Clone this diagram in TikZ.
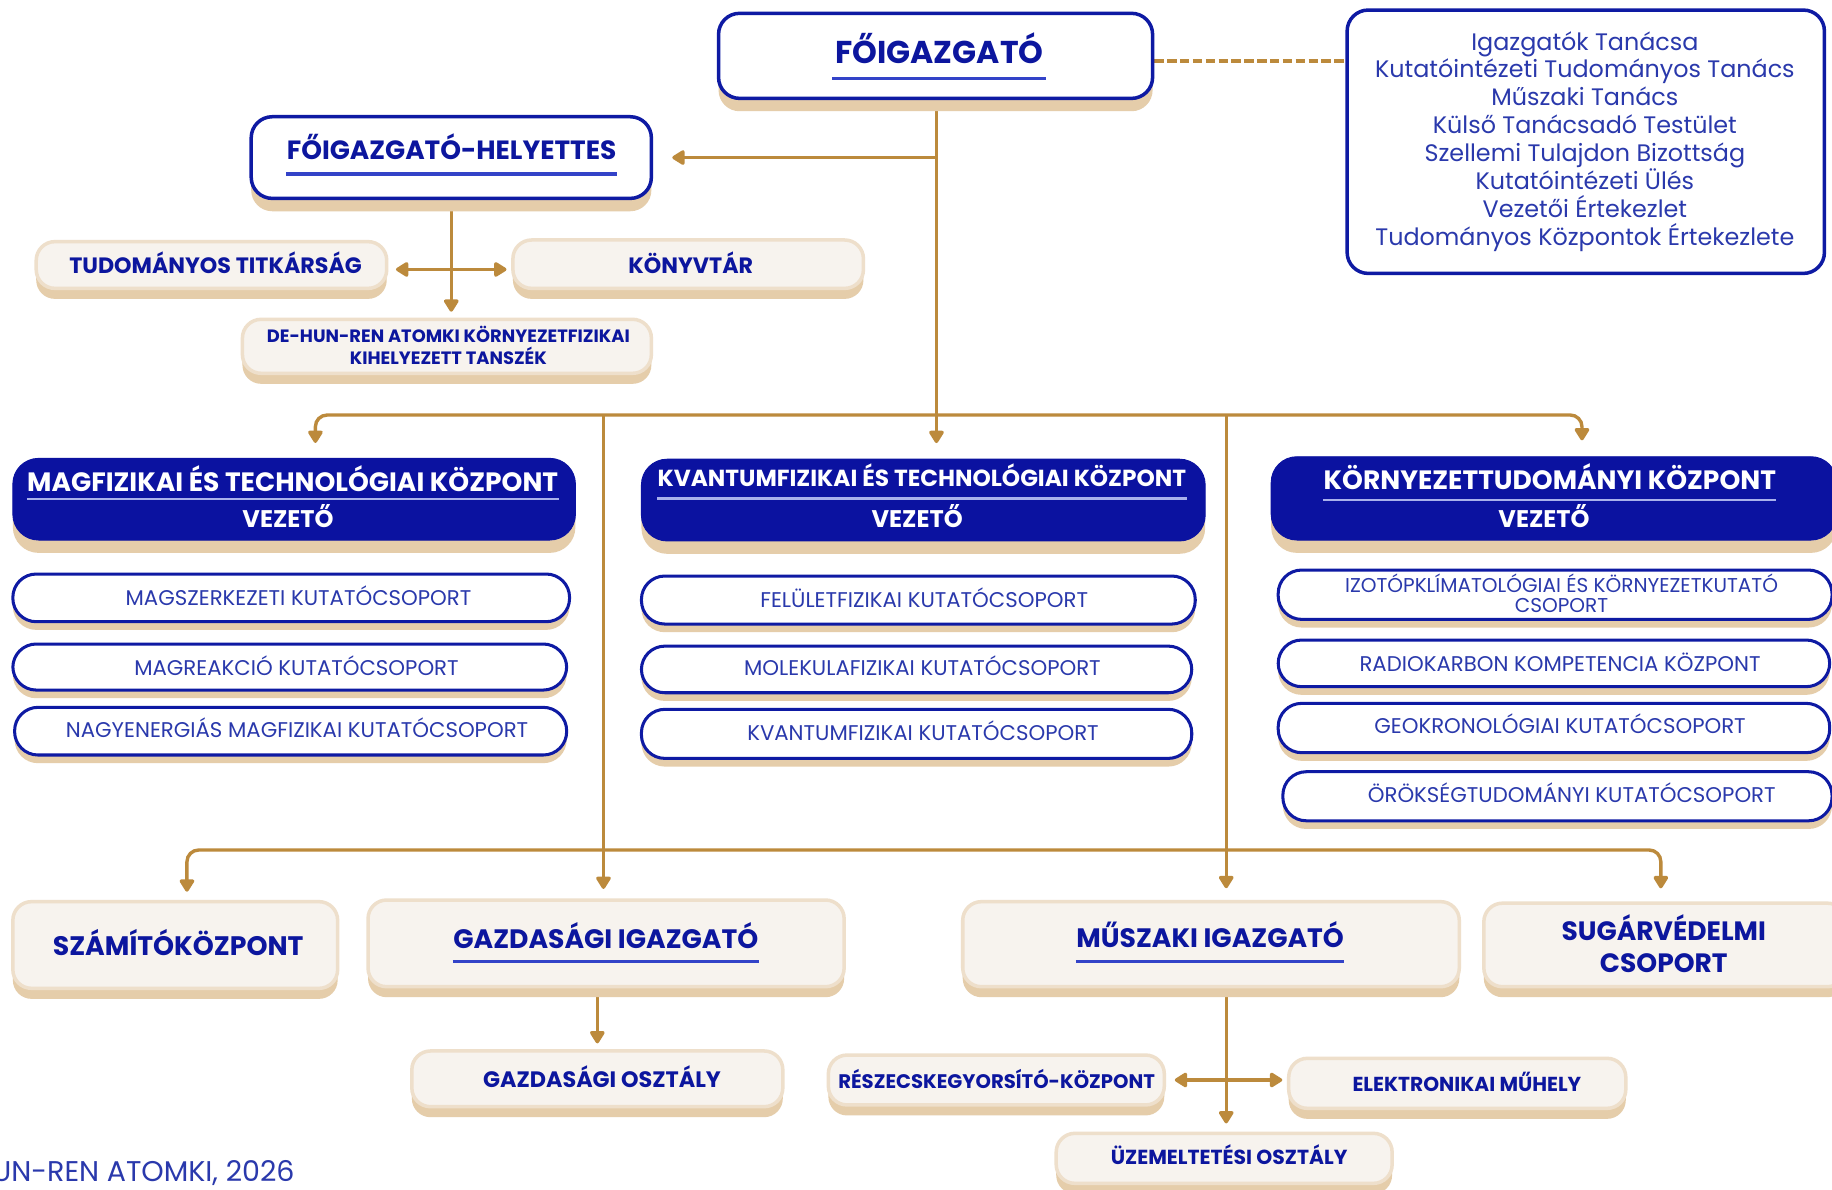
\documentclass[tikz,border=0pt]{standalone}
\usepackage{fontspec}
\setmainfont{Poppins}
\usetikzlibrary{arrows.meta,shadows}
\definecolor{gold}{HTML}{BC8A3C}
\definecolor{navy}{HTML}{0B12A0}
\definecolor{bordb}{HTML}{0E1AA3}
\definecolor{txtb}{HTML}{0C169E}
\definecolor{grpb}{HTML}{2A39AC}
\definecolor{shade}{HTML}{E5CDAA}
\definecolor{cream}{HTML}{F7F3EE}
\definecolor{creamln}{HTML}{EEDFCB}
\definecolor{ulb}{HTML}{3343C8}
\definecolor{ulw}{HTML}{A9B1EC}
\newcommand\fz[1]{\fontsize{#1}{#1}\selectfont}
\pgfdeclarelayer{back}
\pgfdeclarelayer{bg}
\pgfsetlayers{back,bg,main}
\tikzset{
  gline/.style={draw=gold, line width=1.45pt},
  arr/.style={-{Triangle[length=6pt,width=7pt,round]}},
  darr/.style={{Triangle[length=6pt,width=7pt,round]}-{Triangle[length=6pt,width=7pt,round]}},
  shd/.style={drop shadow={shadow xshift=0pt, shadow yshift=-#1, fill=shade, opacity=1}},
  wbox/.style={draw=bordb, line width=1.5pt, fill=white, rounded corners=9pt, inner sep=0pt, shd=5.5pt},
  hbox/.style={fill=navy, draw=navy, rounded corners=11pt, inner sep=0pt, shd=5.5pt},
  gbox/.style={draw=bordb, line width=1.3pt, fill=white, rounded corners=10pt, inner sep=0pt, shd=3.5pt},
  cbox/.style={fill=cream, draw=creamln, line width=1.5pt, rounded corners=8pt, inner sep=0pt, shd=4.5pt},
  kbox/.style={draw=bordb, line width=1.5pt, fill=white, rounded corners=9pt, inner sep=0pt},
  tb/.style={inner sep=0pt, anchor=base, text=txtb},
  tg/.style={inner sep=0pt, anchor=base, text=grpb},
  tw/.style={inner sep=0pt, anchor=base, text=white},
  ulbl/.style={draw=ulb, line width=1.5pt},
  ulwh/.style={draw=ulw, line width=1pt},
}
\begin{document}
\begin{tikzpicture}[x=0.5pt,y=-0.5pt]
\useasboundingbox (0,0) rectangle (1568,1018.5);
\begin{pgfonlayer}{back}
\fill[white] (0,0) rectangle (1568,1018.5);
\end{pgfonlayer}

% ---------- boxes ----------
\node[wbox, minimum width=185.75pt, minimum height=36.4pt] (fo) at (800.75,47.8) {};
\node[kbox, minimum width=204.25pt, minimum height=112.7pt] (cnc) at (1357.25,121.3) {};
\node[wbox, minimum width=171.25pt, minimum height=34.95pt] (hely) at (386.25,134.85) {};
\node[cbox, minimum width=150pt, minimum height=20pt] (tud) at (181,226.8) {};
\node[cbox, minimum width=150pt, minimum height=20.7pt] (konyv) at (589,226.1) {};
\node[cbox, minimum width=175pt, minimum height=23.1pt] (dehun) at (382.5,296.4) {};

\node[hbox, minimum width=240.75pt, minimum height=34.95pt] (mag) at (251.75,427.25) {};
\node[hbox, minimum width=241.25pt, minimum height=35pt] (kva) at (790.25,428) {};
\node[hbox, minimum width=242pt, minimum height=35.65pt] (kor) at (1330,426.55) {};

\node[gbox, minimum width=238.25pt, minimum height=20.4pt] (g1) at (249.25,511.7) {};
\node[gbox, minimum width=237pt, minimum height=19.7pt] (g2) at (248,570.9) {};
\node[gbox, minimum width=236.25pt, minimum height=20.4pt] (g3) at (248.75,625.8) {};
\node[gbox, minimum width=237pt, minimum height=20.55pt] (m1) at (786,513.55) {};
\node[gbox, minimum width=235.5pt, minimum height=19.95pt] (m2) at (784.5,572.95) {};
\node[gbox, minimum width=235.5pt, minimum height=21pt] (m3) at (784.5,628.1) {};
\node[gbox, minimum width=237pt, minimum height=21.1pt] (r1) at (1331,509) {};
\node[gbox, minimum width=236pt, minimum height=19.95pt] (r2) at (1330,567.75) {};
\node[gbox, minimum width=236pt, minimum height=21.1pt] (r3) at (1330,623.1) {};
\node[gbox, minimum width=235pt, minimum height=21pt] (r4) at (1333,681.5) {};

\node[cbox, minimum width=139pt, minimum height=37.1pt] (szam) at (150,808.8) {};
\node[cbox, minimum width=203.75pt, minimum height=37.1pt] (gazd) at (518.75,807.4) {};
\node[cbox, minimum width=212.5pt, minimum height=36.4pt] (musz) at (1036.5,808.1) {};
\node[cbox, minimum width=155pt, minimum height=35.75pt] (sug) at (1425,808.75) {};
\node[cbox, minimum width=158.75pt, minimum height=23.85pt] (gosz) at (511.25,923.35) {};
\node[cbox, minimum width=143.75pt, minimum height=21.35pt] (resz) at (852.75,924.35) {};
\node[cbox, minimum width=144.25pt, minimum height=21.4pt] (elek) at (1247.25,927.2) {};
\node[cbox, minimum width=143.75pt, minimum height=21.4pt] (uzem) at (1047.75,991.4) {};

% ---------- texts ----------
\node[tb, font=\bfseries\fz{13.5}] (fot) at (804,54.2) {FŐIGAZGATÓ};
\draw[ulbl] ([xshift=-1pt,yshift=-6.4pt]fot.base west) -- ([xshift=1pt,yshift=-6.4pt]fot.base east);
\node[inner sep=0pt, text=grpb, align=center, font=\fontsize{10.2}{11.97}\selectfont] (cnct) at (1356.5,121.2)
  {Igazgatók Tanácsa\\Kutatóintézeti Tudományos Tanács\\Műszaki Tanács\\Külső Tanácsadó Testület\\Szellemi Tulajdon Bizottság\\Kutatóintézeti Ülés\\Vezetői Értekezlet\\Tudományos Központok Értekezlete};
\node[tb, font=\bfseries\fz{11.3}] (helt) at (386.5,136.4) {FŐIGAZGATÓ-HELYETTES};
\draw[ulbl] ([yshift=-6.3pt]helt.base west) -- ([yshift=-6.3pt]helt.base east);
\node[tb, font=\bfseries\fz{9.5}] (tudt) at (184.5,234) {TUDOMÁNYOS TITKÁRSÁG};
\node[tb, font=\bfseries\fz{9.5}] (konyvt) at (591.25,234) {KÖNYVTÁR};
\node[inner sep=0pt, text=txtb, align=center, font=\bfseries\fontsize{7.65}{9.25}\selectfont] (dehunt) at (383.75,295.4)
  {DE-HUN-REN ATOMKI KÖRNYEZETFIZIKAI\\KIHELYEZETT TANSZÉK};

\node[tw, font=\bfseries\fz{11.35}] (magt) at (250.5,421) {MAGFIZIKAI ÉS TECHNOLÓGIAI KÖZPONT};
\draw[ulwh] ([yshift=-3pt]magt.base west) -- ([yshift=-3pt]magt.base east);
\node[tw, font=\bfseries\fz{10.3}] (magv) at (246.5,451.5) {VEZETŐ};
\node[tw, font=\bfseries\fz{9.95}] (kvat) at (789,416.6) {KVANTUMFIZIKAI ÉS TECHNOLÓGIAI KÖZPONT};
\draw[ulwh] ([yshift=-5pt]kvat.base west) -- ([yshift=-5pt]kvat.base east);
\node[tw, font=\bfseries\fz{10.3}] (kvav) at (785,451.5) {VEZETŐ};
\node[tw, font=\bfseries\fz{11.35}] (kort) at (1326.5,419) {KÖRNYEZETTUDOMÁNYI KÖZPONT};
\draw[ulwh] ([yshift=-4.5pt]kort.base west) -- ([yshift=-4.5pt]kort.base east);
\node[tw, font=\bfseries\fz{10.3}] (korv) at (1321.5,451.4) {VEZETŐ};

\node[tg, font=\fz{9.1}] (g1t) at (255.5,518) {MAGSZERKEZETI KUTATÓCSOPORT};
\node[tg, font=\fz{9.1}] (g2t) at (253.75,578) {MAGREAKCIÓ KUTATÓCSOPORT};
\node[tg, font=\fz{9.1}] (g3t) at (254.25,631) {NAGYENERGIÁS MAGFIZIKAI KUTATÓCSOPORT};
\node[tg, font=\fz{9.1}] (m1t) at (791,520) {FELÜLETFIZIKAI KUTATÓCSOPORT};
\node[tg, font=\fz{9.1}] (m2t) at (789.5,578.5) {MOLEKULAFIZIKAI KUTATÓCSOPORT};
\node[tg, font=\fz{9.1}] (m3t) at (790,634) {KVANTUMFIZIKAI KUTATÓCSOPORT};
\node[inner sep=0pt, text=grpb, align=center, font=\fontsize{8.57}{8.55}\selectfont] (r1t) at (1336.5,507.5)
  {IZOTÓPKLÍMATOLÓGIAI ÉS KÖRNYEZETKUTATÓ\\CSOPORT};
\node[tg, font=\fz{9.1}] (r2t) at (1335.25,575) {RADIOKARBON KOMPETENCIA KÖZPONT};
\node[tg, font=\fz{9.1}] (r3t) at (1335.25,628) {GEOKRONOLÓGIAI KUTATÓCSOPORT};
\node[tg, font=\fz{9.1}] (r4t) at (1345.25,687) {ÖRÖKSÉGTUDOMÁNYI KUTATÓCSOPORT};

\node[tb, font=\bfseries\fz{11.45}] (szamt) at (152.5,817.4) {SZÁMÍTÓKÖZPONT};
\node[tb, font=\bfseries\fz{11.4}] (gazdt) at (518.5,811.6) {GAZDASÁGI IGAZGATÓ};
\draw[ulbl] ([yshift=-5.7pt]gazdt.base west) -- ([yshift=-5.7pt]gazdt.base east);
\node[tb, font=\bfseries\fz{11.4}] (muszt) at (1035.75,810.8) {MŰSZAKI IGAZGATÓ};
\draw[ulbl] ([yshift=-6.1pt]muszt.base west) -- ([yshift=-6.1pt]muszt.base east);
\node[inner sep=0pt, text=txtb, align=center, font=\bfseries\fontsize{11.35}{13.65}\selectfont] (sugt) at (1424,807.9)
  {SUGÁRVÉDELMI\\CSOPORT};
\node[tb, font=\bfseries\fz{9.55}] (goszt) at (515.25,931) {GAZDASÁGI OSZTÁLY};
\node[tb, font=\bfseries\fz{8.4}] (reszt) at (853,931.5) {RÉSZECSKEGYORSÍTÓ-KÖZPONT};
\node[tb, font=\bfseries\fz{8.65}] (elekt) at (1255.5,934.3) {ELEKTRONIKAI MŰHELY};
\node[tb, font=\bfseries\fz{8.7}] (uzemt) at (1052,997) {ÜZEMELTETÉSI OSZTÁLY};

\node[inner sep=0pt, anchor=base east, text=grpb, font=\fz{12.2}] (foot) at (252.5,1011) {UN-REN ATOMKI, 2026};

% ---------- connectors ----------
\coordinate (bus1) at (801.5,355.2);
\coordinate (v1) at (516.5,355.2);
\coordinate (v2) at (1049.5,355.2);
\coordinate (bus2) at (516.5,727.5);
\begin{pgfonlayer}{bg}
\draw[gline, line width=1.7pt, dash pattern=on 4pt off 1.5pt] ([yshift=-2pt]fo.east) -- ([yshift=-2pt]fo.east -| cnc.west);
\draw[gline] (bus1 |- fo.south) -- (bus1);
\draw[gline, arr, shorten >=6.7pt] (bus1) -- (bus1 |- kva.north);
\draw[gline, arr, shorten >=8.2pt] (bus1 |- hely.east) -- (hely.east);
\draw[gline, arr, shorten >=2.5pt] (hely.south) -- (hely.south |- dehun.north);
\draw[gline, darr, shorten <=3.2pt, shorten >=2pt] ([yshift=-1.9pt]tud.east) -- ([yshift=-1.9pt]tud.east -| konyv.west);
\draw[gline, arr, rounded corners=5pt, shorten >=6.4pt] (bus1) -| ([xshift=9.1pt]mag.north);
\draw[gline, arr, rounded corners=5pt, shorten >=6.8pt] (bus1) -| ([xshift=12pt]kor.north);
\draw[gline, arr, shorten >=4pt] (v1) -- (v1 |- gazd.north);
\draw[gline, arr, shorten >=5pt] (v2) -- (v2 |- musz.north);
\draw[gline, arr, rounded corners=5pt, shorten >=3.5pt] (bus2) -| ([xshift=5pt]szam.north);
\draw[gline, arr, rounded corners=5pt, shorten >=5.6pt] (bus2) -| ([xshift=-1.75pt]sug.north);
\draw[gline, arr, shorten >=2.5pt] (gosz.north |- gazd.south) -- (gosz.north);
\draw[gline, arr, shorten >=3.5pt] (v2 |- musz.south) -- (v2 |- uzem.north);
\draw[gline, darr, shorten <=3.75pt, shorten >=2pt] (resz.east) -- (resz.east -| elek.west);
\end{pgfonlayer}
\end{tikzpicture}
\end{document}
